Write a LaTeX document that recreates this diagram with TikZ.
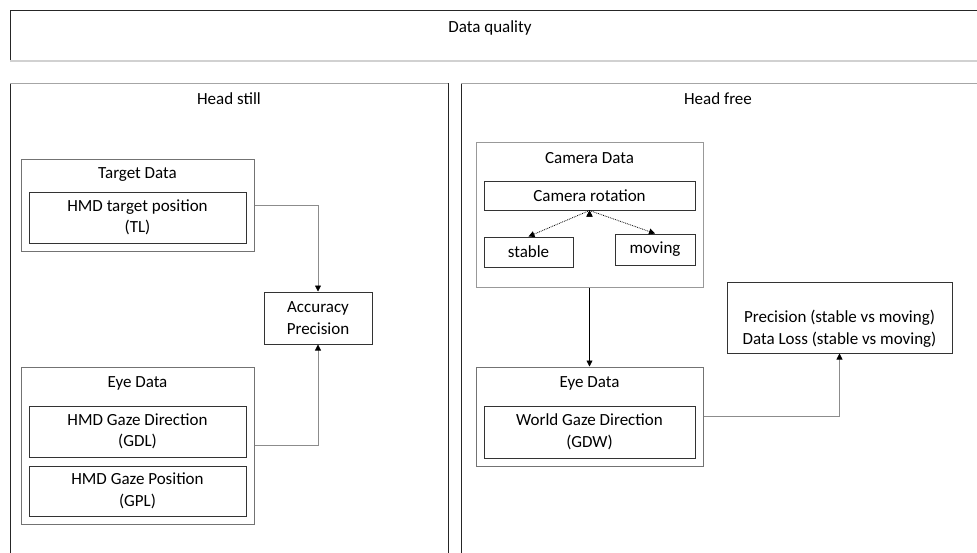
\documentclass[tikz,border=0pt]{standalone}
\usepackage{fontspec}
\setmainfont{Carlito}
\usepackage{tikz}
\usetikzlibrary{arrows.meta}

\tikzset{
	txt/.style={font=\fontsize{17}{21.5}\selectfont, align=center, inner sep=0pt},
	group/.style={draw=black!55, line width=1pt, inner sep=0pt},
	item/.style={txt, draw=black!80, line width=1pt},
	link/.style={draw=black!45, line width=0.8pt, -{Triangle[length=6pt,width=6pt,color=black]}},
}

\begin{document}
\begin{tikzpicture}[x=1pt, y=-1pt]
	\useasboundingbox (0,0) rectangle (977,552);

	% top bar and the two panels
	\draw[line width=1pt, black!85] (995,10) -- (10,10) -- (10,61);
	\draw[line width=1.2pt, black!18] (10,61) -- (995,61);
	\node[txt] (quality) at (490,28) {Data quality};

	\draw[line width=1pt, black!85] (10,570) -- (10,83);
	\draw[line width=1pt, black!85] (448,83) -- (448,570);
	\draw[line width=1pt, black!35] (10,83) -- (448,83);
	\draw[line width=1pt, black!85] (461,570) -- (461,83);
	\draw[line width=1pt, black!35] (461,83) -- (995,83);
	\node[txt] (still) at (229,99) {Head still};
	\node[txt] (free) at (718,99) {Head free};

	% head still
	\node[group, minimum width=233pt, minimum height=92pt] (tdata) at (137.5,205) {};
	\node[txt] (tdatalbl) at (137.5,175) {Target Data};
	\node[item, minimum width=217pt, minimum height=51pt] (tl) at (137.5,217.5) {HMD target position\\(TL)};
	\node[item, minimum width=108pt, minimum height=52pt] (acc) at (318,318) {Accuracy\\Precision};
	\node[group, minimum width=233pt, minimum height=157pt] (eyel) at (137.5,445.5) {};
	\node[txt] (eyellbl) at (137.5,383) {Eye Data};
	\node[item, minimum width=217pt, minimum height=51pt] (gdl) at (137.5,431.5) {HMD Gaze Direction\\(GDL)};
	\node[item, minimum width=217pt, minimum height=50pt] (gpl) at (137.5,491) {HMD Gaze Position\\(GPL)};

	\draw[link] (tdata.east) -| (acc.north);
	\draw[link] (eyel.east) -| (acc.south);

	% head free
	\node[group, draw=black!40, minimum width=227pt, minimum height=145pt] (camdata) at (589.5,214.5) {};
	\node[txt] (camlbl) at (589.5,158) {Camera Data};
	\node[item, minimum width=211pt, minimum height=29pt] (rot) at (589.5,195.5) {Camera rotation};
	\node[item, minimum width=89pt, minimum height=30pt] (stable) at (528.5,252) {stable};
	\node[item, minimum width=80pt, minimum height=31pt] (moving) at (655,249.5) {moving};
	\node[item, minimum width=225pt, minimum height=71pt] (prec) at (839.5,317.5) {};
	\node[txt] (prectxt) at ([yshift=-11pt]prec.center) {Precision (stable vs moving)\\Data Loss (stable vs moving)};
	\node[group, minimum width=227pt, minimum height=99pt] (eyer) at (589.5,416.5) {};
	\node[txt] (eyerlbl) at (589.5,383) {Eye Data};
	\node[item, minimum width=211pt, minimum height=52pt] (gdw) at (589.5,432) {World Gaze Direction\\(GDW)};

	\path [link, draw=black, densely dotted] (rot.south) edge (stable.north);
	\path [link, draw=black, densely dotted] (rot.south) edge (moving.north);
	\draw[link, draw=black] (camdata.south) -- (eyer.north);
	\draw[link] (eyer.east) -| (prec.south);
\end{tikzpicture}
\end{document}
